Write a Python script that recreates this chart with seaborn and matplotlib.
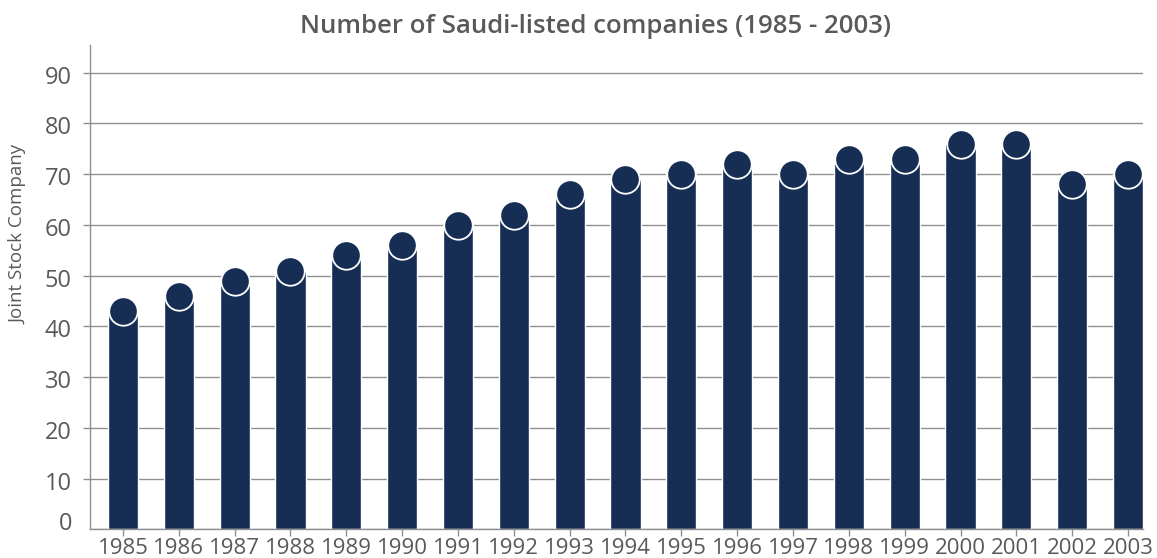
import matplotlib
matplotlib.use("Agg")
import matplotlib.pyplot as plt
import matplotlib.transforms as mtransforms
import seaborn as sns
import pandas as pd

years = ["1985", "1986", "1987", "1988", "1989", "1990", "1991", "1992", "1993", "1994",
         "1995", "1996", "1997", "1998", "1999", "2000", "2001", "2002", "2003"]
companies = [43, 46, 49, 51, 54, 56, 60, 62, 66, 69, 70, 72, 70, 73, 73, 76, 76, 68, 70]
y_ticks = [0, 10, 20, 30, 40, 50, 60, 70, 80, 90]

title = "Number of Saudi-listed companies (1985 - 2003)"
y_label = "Joint Stock Company"

navy = "#162d54"
grey_text = "#595959"
grid_grey = "#8f8f8f"

sns.set_theme(style="white")
plt.rcParams["font.family"] = ["Open Sans", "DejaVu Sans"]

df = pd.DataFrame({"year": years, "companies": companies})

fig = plt.figure(figsize=(11.57, 5.58), dpi=100)
ax = fig.add_axes([0.0778, 0.0514, 0.9102, 0.8676])

sns.barplot(data=df, x="year", y="companies", color=navy, saturation=1,
            width=0.54, ax=ax, zorder=2)
sns.stripplot(data=df, x="year", y="companies", jitter=False, color=navy,
              size=20.5, edgecolor="white", linewidth=1.3, ax=ax, zorder=3)

ax.set_ylim(0, 95.4)
ax.set_xlim(-0.59, len(years) - 1 + 0.27)
ax.set_yticks(y_ticks)
ax.yaxis.grid(True, color=grid_grey, linewidth=1.0, zorder=0)
ax.set_axisbelow(True)
ax.set_xlabel("")
ax.set_ylabel("")

for side in ("top", "right"):
    ax.spines[side].set_visible(False)
for side in ("left", "bottom"):
    ax.spines[side].set_color(grid_grey)
    ax.spines[side].set_linewidth(1.0)

ax.tick_params(axis="y", which="both", left=True, length=5, width=1, color=grid_grey,
               labelcolor=grey_text, labelsize=17, pad=8)
ax.tick_params(axis="x", which="both", bottom=True, length=5, width=1, color=grid_grey,
               labelcolor=grey_text, labelsize=16, pad=1)

# The zero label sits a little above the baseline and has no tick mark
zero_tick = ax.yaxis.get_major_ticks()[0]
zero_tick.tick1line.set_visible(False)
zero_tick.label1.set_transform(zero_tick.label1.get_transform() +
                               mtransforms.ScaledTranslation(0, 8 / 100, fig.dpi_scale_trans))
# other labels sit slightly below their gridlines
for t in ax.yaxis.get_major_ticks()[1:]:
    t.label1.set_transform(t.label1.get_transform() +
                           mtransforms.ScaledTranslation(0, -2 / 100, fig.dpi_scale_trans))

fig.text(0.515, 0.953, title, ha="center", va="center", fontsize=18.5,
         fontweight="semibold", color=grey_text)
fig.text(0.016, 0.579, y_label, ha="center", va="center", rotation=90,
         fontsize=13.5, color=grey_text)

fig.savefig("out.png", dpi=100)
